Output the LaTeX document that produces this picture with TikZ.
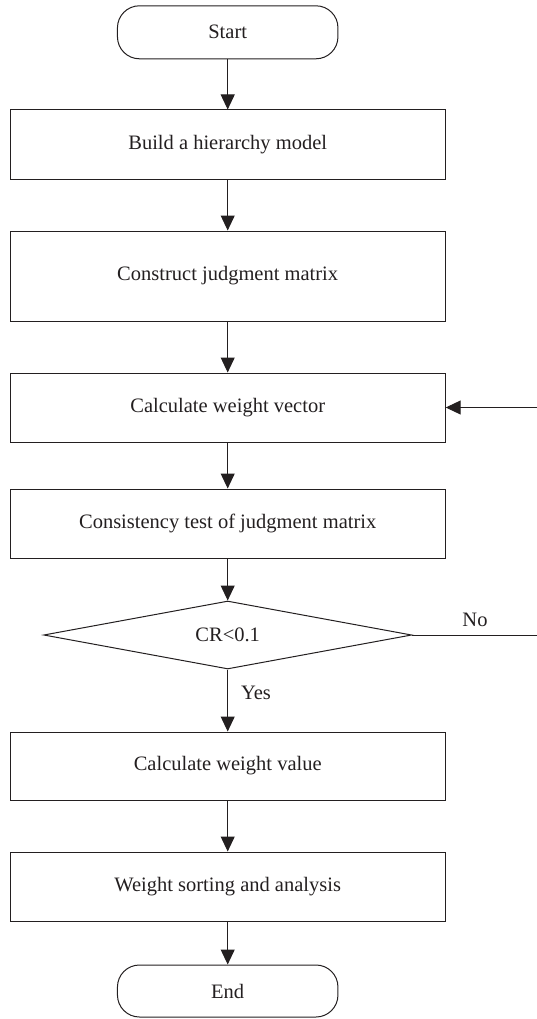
\documentclass[tikz,border=0pt]{standalone}
\usepackage{fontspec}
\setmainfont{Liberation Serif}
\usetikzlibrary{shapes.geometric,arrows.meta}
\definecolor{ink}{HTML}{231F20}
\begin{document}
\begin{tikzpicture}[x=1pt,y=-1pt,
  every node/.style={font=\fontsize{20.5}{24}\selectfont, text=ink},
  procbox/.style={draw=ink, line width=1pt, rectangle, minimum width=435pt, inner sep=0pt},
  termbox/.style={draw=ink, line width=1pt, rectangle, rounded corners=22pt, minimum width=220.5pt, inner sep=0pt},
  decbox/.style={draw=ink, line width=1pt, diamond, aspect=5.4, minimum width=368pt, minimum height=68pt, inner sep=0pt},
  conn/.style={draw=ink, line width=1pt, -{Triangle[length=15pt,width=14pt]}},
  plainconn/.style={draw=ink, line width=1pt},
  lbl/.style={inner sep=0pt}
]
\useasboundingbox (0,0) rectangle (537,1019);
\node[termbox, minimum height=53pt] (start) at (227.7,32.3) {Start};
\node[procbox, minimum height=70pt] (b1) at (227.7,145) {Build a hierarchy model};
\node[procbox, minimum height=90pt] (b2) at (227.7,276) {Construct judgment matrix};
\node[procbox, minimum height=69pt] (b3) at (227.7,407.5) {Calculate weight vector};
\node[procbox, minimum height=69pt] (b4) at (227.7,523.5) {Consistency test of judgment matrix};
\node[decbox] (d) at (227.7,635) {CR<0.1};
\node[procbox, minimum height=68pt] (b5) at (227.7,766) {Calculate weight value};
\node[procbox, minimum height=69pt] (b6) at (227.7,886.5) {Weight sorting and analysis};
\node[termbox, minimum height=52pt] (end) at (227.7,991) {End};
\coordinate (noend) at (537,635);
\coordinate (backin) at (537,407.5);
\draw[conn] (start) -- (b1);
\draw[conn] (b1) -- (b2);
\draw[conn] (b2) -- (b3);
\draw[conn] (b3) -- (b4);
\draw[conn] (b4) -- (d);
\draw[conn] (d) -- (b5);
\draw[conn] (b5) -- (b6);
\draw[conn] (b6) -- (end);
\draw[plainconn] (d.east) -- (noend);
\draw[conn] (backin) -- (b3.east);
\node[lbl] (no) at (475,620) {No};
\node[lbl] (yes) at (256,693) {Yes};
\end{tikzpicture}
\end{document}
